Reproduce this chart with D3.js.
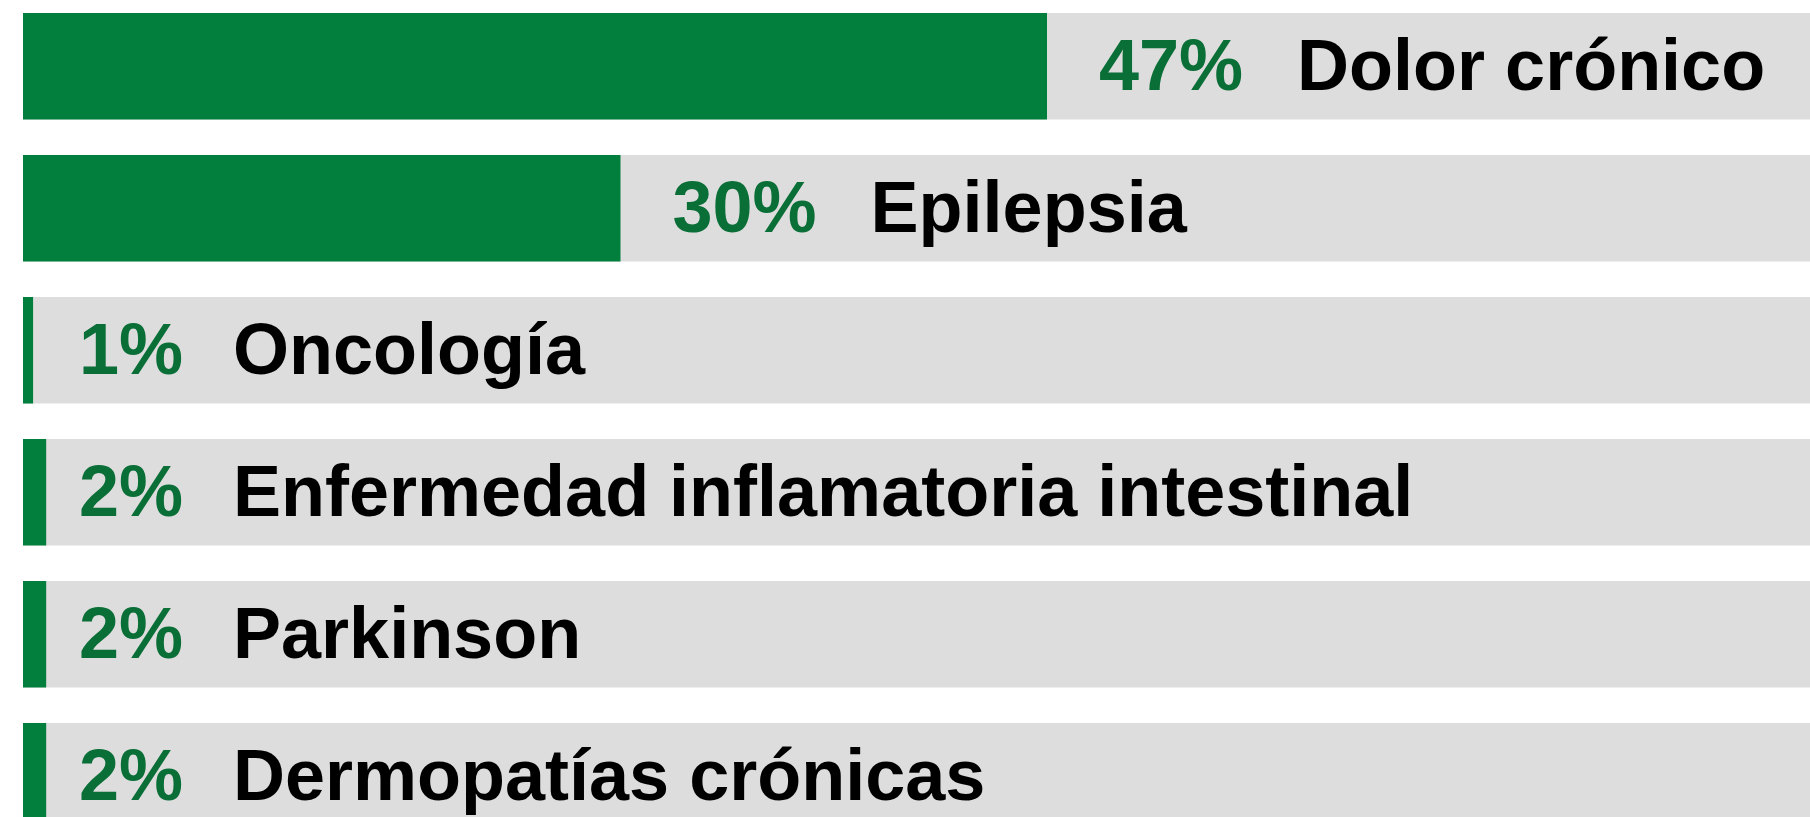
<!DOCTYPE html>
<html>
<head>
<meta charset="utf-8">
<script src="https://cdn.jsdelivr.net/npm/d3@7"></script>
<style>
  html, body { margin: 0; padding: 0; background: #fff; overflow: hidden; }
  svg { display: block; }
</style>
</head>
<body>
<svg id="chart"></svg>
<script>
// datos
var categories = ["Dolor crónico", "Epilepsia", "Oncología",
  "Enfermedad inflamatoria intestinal", "Parkinson", "Dermopatías crónicas"];
var values = [47, 30, 1, 2, 2, 2];

var W = 1810,
    H = 817,
    MARGINS = { top: 13, left: 23 },
    rowStep = 142,
    barH = 106.5,
    pctCol = 79,    // columna fija para las barras cortas
    nameCol = 233;

var svg = d3.select("#chart")
  .attr("width", W)
  .attr("height", H);

var rows = categories.map(function(c, i) { return { name: c, value: values[i] }; });

var yScale = d3.scaleBand()
  .domain(d3.range(rows.length))
  .range([MARGINS.top, MARGINS.top + (rows.length - 1) * rowStep + barH])
  .paddingInner(0.25)
  .paddingOuter(0);

// el ancho de las barras no es lineal en el original, se aproxima con una potencia
var xScale = d3.scalePow()
  .exponent(1.2)
  .domain([0, d3.max(values)])
  .range([0, 1024]);

function isShort(d) { return MARGINS.left + xScale(d.value) < 100; }

var g = svg.selectAll(".row")
  .data(rows)
  .enter().append("g")
  .attr("class", "row")
  .attr("transform", function(d, i) { return "translate(0," + yScale(i) + ")"; });

// fondo gris
g.append("rect")
  .attr("x", MARGINS.left)
  .attr("y", 0)
  .attr("width", W - MARGINS.left)
  .attr("height", yScale.bandwidth())
  .style("fill", "#dddddd");

// barra verde
g.append("rect")
  .attr("x", MARGINS.left)
  .attr("y", 0)
  .attr("width", function(d) { return xScale(d.value); })
  .attr("height", yScale.bandwidth())
  .style("fill", "#027f3c");

var baseY = yScale.bandwidth() / 2 + 24;

var pct = g.append("text")
  .attr("class", "pct")
  .attr("x", function(d) {
    return isShort(d) ? pctCol : MARGINS.left + xScale(d.value) + 52;
  })
  .attr("y", baseY)
  .style("font-family", "'Liberation Sans', Arial, sans-serif")
  .style("font-weight", "bold")
  .style("font-size", "72px")
  .style("fill", "#0a6e37")
  .text(function(d) { return d.value + "%"; });

g.append("text")
  .attr("class", "name")
  .attr("x", function(d, i) {
    if (isShort(d)) return nameCol;
    var p = pct.nodes()[i];
    return +p.getAttribute("x") + p.getComputedTextLength() + 54;
  })
  .attr("y", baseY)
  .style("font-family", "'Liberation Sans', Arial, sans-serif")
  .style("font-weight", "bold")
  .style("font-size", "72px")
  .style("fill", "#000")
  .text(function(d) { return d.name; });
</script>
</body>
</html>
